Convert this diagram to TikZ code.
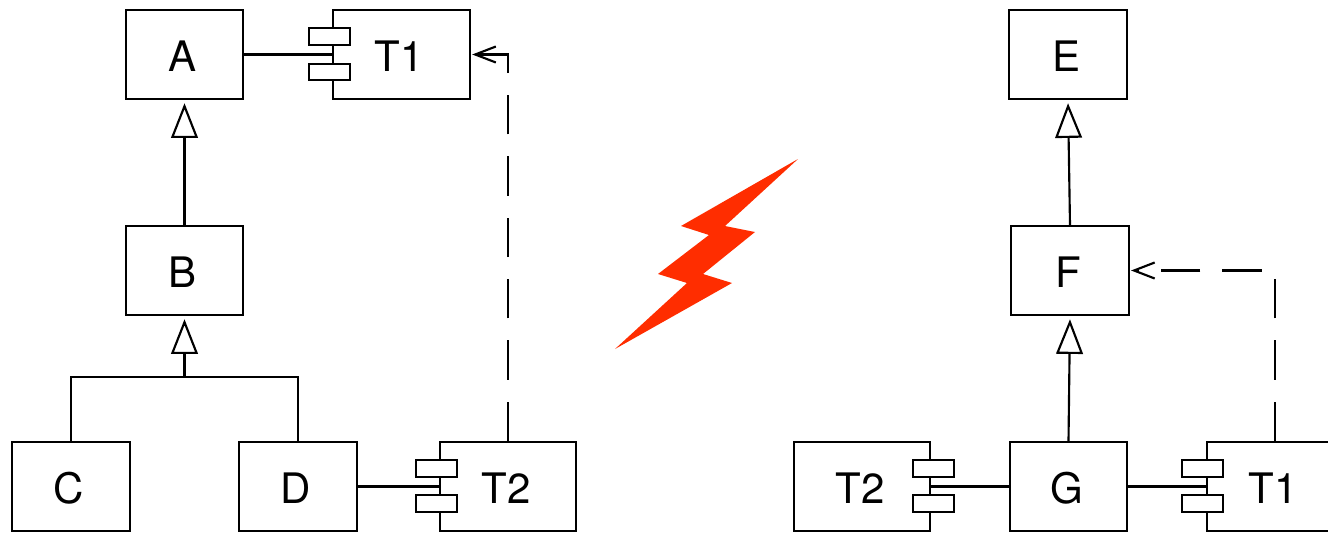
\documentclass[tikz,border=0pt]{standalone}
\usepackage{fontspec}
\setmainfont{TeX Gyre Heros}
\usetikzlibrary{arrows.meta}
\definecolor{boltred}{RGB}{255,45,0}
\tikzset{
  box/.style={draw, line width=1.6pt, minimum width=88pt, minimum height=66.5pt, inner sep=0pt, text height=25.5pt, text depth=0pt, font=\fontsize{31.5}{36}\selectfont, execute at end node=\hspace{3pt}},
  compbox/.style={box, minimum width=102.5pt},
  port/.style={draw, line width=1.6pt, fill=white, minimum width=30.5pt, minimum height=12.5pt, inner sep=0pt},
  link/.style={line width=1.6pt},
  extends/.style={line width=1.6pt, -{Triangle[open, length=26pt, width=20pt]}, shorten >=2.5pt},
  depends/.style={line width=1.6pt, dash pattern=on 29.5pt off 16.5pt, -{Straight Barb[length=15.5pt, width=12pt]}, shorten >=1pt},
  dependslong/.style={depends, dash pattern=on 29.5pt off 16.5pt on 29.5pt off 16.5pt on 29.5pt off 16.5pt on 29.5pt off 16.5pt on 29.5pt off 16.5pt on 29.5pt off 16.5pt on 120pt off 0pt}
}
\begin{document}
\begin{tikzpicture}[x=0.75pt, y=-0.75pt]
    \clip[use as bounding box] (0,0) rectangle (1328,532);

    % left side
    \node[box] (A) at (184.5,54.5) {A};
    \node[box] (B) at (184.5,270.5) {B};
    \node[box] (C) at (71,486.5) {C};
    \node[box] (D) at (298,486.5) {D};
    \node[compbox] (T1) at (401.5,54.5) {T1\hspace{5.5pt}};
    \node[compbox] (T2) at (508,486.5) {T2\hspace{5.5pt}};
    \node[port] (T1a) at (329.5,36.5) {};
    \node[port] (T1b) at (329.5,72) {};
    \node[port] (T2a) at (436.5,468.5) {};
    \node[port] (T2b) at (436.5,503.5) {};
    \coordinate (bus) at (184.5,377);

    \draw[link] (A.east) -- (T1.west);
    \draw[link] (D.east) -- (T2.west);
    \draw[extends] (B.north) -- (A.south);
    \draw[link] (C.north) |- (bus);
    \draw[link] (D.north) |- (bus);
    \draw[extends] (bus) -- (B.south);
    \draw[dependslong] (T2.north) |- (T1.east);

    % bolt
    \fill[boltred] (798,159) -- (725,226) -- (755,232) -- (703,274) -- (732,283)
      -- (615,349) -- (687,283) -- (658,274) -- (709,235) -- (681,226) -- cycle;

    % right side
    \node[box] (E) at (1068,54.5) {E};
    \node[box] (F) at (1070,270.5) {F};
    \node[box] (G) at (1068.5,486.5) {G};
    \node[compbox] (T2r) at (862,486.5) {T2\hspace{5.5pt}};
    \node[compbox] (T1r) at (1275,486.5) {T1\hspace{5.5pt}};
    \node[port] (T2ra) at (933.5,468.5) {};
    \node[port] (T2rb) at (933.5,503.5) {};
    \node[port] (T1ra) at (1202.5,468.5) {};
    \node[port] (T1rb) at (1202.5,503.5) {};

    \draw[link] (G.west) -- (T2r.east);
    \draw[link] (G.east) -- (T1r.west);
    \draw[extends] (F.north) -- (E.south);
    \draw[extends] (G.north) -- (F.south);
    \draw[depends] (T1r.north) |- (F.east);
\end{tikzpicture}
\end{document}
